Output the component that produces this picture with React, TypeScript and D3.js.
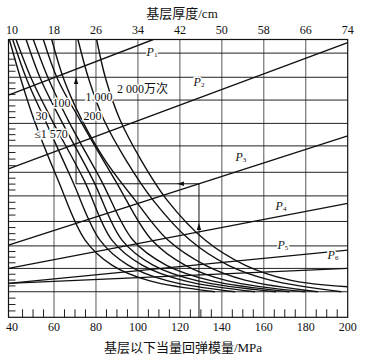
import React from 'react';
import * as d3 from 'd3';

const W = 372;
const H = 359;

// bottom axis (MPa) and top axis (cm)
const modulusTicks = [40, 60, 80, 100, 120, 140, 160, 180, 200];
const modulusMinor = [45, 50, 55, 65, 70, 75, 85, 90, 95, 105, 110, 115, 125, 130, 135, 145, 150, 155, 165, 170, 175, 185, 190, 195];
const thicknessTicks = [10, 18, 26, 34, 42, 50, 58, 66, 74];

// hidden vertical scale (no labels) : grid lines
const hGridValues = [95.1, 86.4, 78.2, 69.8, 61.7, 52.2, 43.7, 34.5, 25.7, 17.6, 9.2, 0];

// P lines (modulus, hidden value)
const lineP1 = [[38.3, 80.0], [107.3, 100]];
const lineP2 = [[38.3, 53.4], [200, 98.85]];
const lineP3 = [[38.3, 26.0], [200, 65.3]];
const lineP4 = [[38.3, 17.6], [200, 41.0]];
const lineP5 = [[38.3, 12.2], [200, 24.2]];
const lineP6 = [[38.3, 12.2], [200, 17.6]];
const pNames = ['1', '2', '3', '4', '5', '6'];
const pLabelPos = [[106.7, 95.5], [129.1, 84.7], [149.1, 57.7], [168.2, 40.1], [169.1, 26.0], [193.0, 22.4]];

// traffic curves (modulus, hidden value)
const curveA = [[38.7, 100], [44.3, 85.4], [50.5, 71.0], [61.9, 49.4], [74.8, 27.8], [87.6, 18.8], [105.7, 13.1], [136.7, 9.2]];
const curveB = [[40.3, 100], [47.1, 85.4], [55.7, 71.0], [68.6, 49.4], [81.9, 27.8], [95.3, 18.8], [114.3, 13.1], [146.3, 9.2]];
const curveC = [[41.9, 100], [49.5, 85.4], [59.0, 71.0], [74.3, 49.4], [87.6, 27.8], [102.0, 18.8], [122.4, 13.1], [155.8, 9.2]];
const curveD = [[46.7, 100], [53.8, 85.4], [63.3, 71.0], [78.6, 49.4], [92.4, 27.8], [107.2, 18.8], [128.6, 13.1], [165.8, 9.2]];
const curveE = [[50.1, 100], [57.6, 85.4], [66.7, 71.0], [82.4, 49.4], [97.6, 27.8], [113.4, 18.8], [135.3, 13.1], [172.2, 9.2]];
const curveF = [[54.9, 100], [61.9, 85.4], [72.4, 71.0], [89.1, 49.4], [106.6, 27.8], [122.4, 18.8], [142.9, 13.1], [179.6, 9.2]];
const curveG = [[58.9, 100], [64.8, 85.4], [73.3, 71.0], [84.3, 56.6], [98.6, 42.2], [114.3, 27.8], [132.0, 18.8], [151.0, 13.4], [185.8, 9.2]];
const curveH = [[71.4, 100], [76.7, 85.4], [83.8, 71.0], [94.3, 56.6], [107.2, 42.2], [124.8, 27.8], [142.9, 18.8], [163.0, 13.4], [197.0, 9.2]];
const curveI = [[80.3, 100], [84.8, 85.4], [91.5, 71.0], [101.5, 56.6], [113.9, 42.2], [132.0, 27.8], [151.0, 18.8], [172.5, 13.4], [200, 11.0]];

const curveLabels = ['≤1 570', '30', '100', '200', '1 000', '2 000万次'];
const curveLabelPos = [[58.6, 66.0], [54.0, 72.5], [63.6, 77.3], [78.3, 72.6], [81.4, 79.3], [102.2, 82.2]];

// worked example
const exampleModulus = 129.1;
const exampleThickness = 22.2;
const exampleArrowUp1 = 32.5;
const exampleArrowLeft = 120.5;
const exampleArrowUp2 = 85.1;

const FONT = "'Liberation Serif', 'Noto Sans CJK SC', serif";

export default function App() {
  const left = 8.5, right = 347.7, top = 39.5, bottom = 317.3;
  const x = d3.scaleLinear().domain([38.3, 200]).range([left, right]);
  const xTop = d3.scaleLinear().domain([10, 74]).range([x(40), x(200)]);
  const y = d3.scaleLinear().domain([0, 100]).range([bottom, top]);

  const line = d3.line<number[]>().x(d => x(d[0])).y(d => y(d[1]));
  const smooth = d3.line<number[]>().x(d => x(d[0])).y(d => y(d[1])).curve(d3.curveCatmullRom.alpha(0.5));

  const pLines = [lineP1, lineP2, lineP3, lineP4, lineP5, lineP6];
  const curves = [curveA, curveB, curveC, curveD, curveE, curveF, curveG, curveH, curveI];

  // minor ticks on the hidden axis: quarter subdivisions
  const minorY: number[] = [];
  for (let i = 1; i < hGridValues.length; i++) {
    const a = hGridValues[i - 1], b = hGridValues[i];
    for (let k = 1; k < 4; k++) minorY.push(a + (b - a) * k / 4);
  }

  // example path
  const p3 = lineP3;
  const exV = p3[0][1] + (exampleModulus - p3[0][0]) / (p3[1][0] - p3[0][0]) * (p3[1][1] - p3[0][1]);
  const exX1 = x(exampleModulus);
  const exX2 = xTop(exampleThickness);
  const exY = y(exV);

  const arrowUp = (cx: number, cy: number) => `M${cx},${cy - 4} L${cx - 2.2},${cy + 3} L${cx + 2.2},${cy + 3} Z`;
  const arrowLeft = (cx: number, cy: number) => `M${cx - 4},${cy} L${cx + 3},${cy - 2.2} L${cx + 3},${cy + 2.2} Z`;

  return (
    <svg width={W} height={H} style={{ position: 'absolute', left: 0, top: 0, background: '#fff' }} fontFamily={FONT}>
      <defs>
        <clipPath id="plot">
          <rect x={left} y={top} width={right - left} height={bottom - top} />
        </clipPath>
      </defs>
      <rect x={0} y={0} width={W} height={H} fill="#fff" />
      {modulusTicks.slice(1, -1).map(t => (
        <line key={'vg' + t} x1={x(t)} x2={x(t)} y1={top} y2={bottom} stroke="#666" strokeWidth={1.1} />
      ))}
      {hGridValues.slice(0, -1).map(v => (
        <line key={'hg' + v} x1={left} x2={right} y1={y(v)} y2={y(v)} stroke="#222" strokeWidth={1} />
      ))}
      {minorY.map((v, i) => (
        <line key={'my' + i} x1={left} x2={left + 7} y1={y(v)} y2={y(v)} stroke="#222" strokeWidth={1} />
      ))}
      {modulusMinor.map(t => (
        <line key={'mx' + t} x1={x(t)} x2={x(t)} y1={bottom} y2={bottom - 8} stroke="#222" strokeWidth={1} />
      ))}
      <g clipPath="url(#plot)">
        {pLines.map((pl, i) => (
          <path key={'p' + i} d={line(pl) || ''} fill="none" stroke="#111" strokeWidth={1.4} />
        ))}
        {curves.map((c, i) => (
          <path key={'c' + i} d={smooth(c) || ''} fill="none" stroke="#111" strokeWidth={1.4} />
        ))}
        <path d={`M${exX1},${bottom} L${exX1},${exY} L${exX2},${exY} L${exX2},${top}`} fill="none" stroke="#111" strokeWidth={1} />
        <path d={arrowUp(exX1, y(exampleArrowUp1))} fill="#111" />
        <path d={arrowLeft(x(exampleArrowLeft), exY)} fill="#111" />
        <path d={arrowUp(exX2, y(exampleArrowUp2))} fill="#111" />
      </g>
      <rect x={left} y={top} width={right - left} height={bottom - top} fill="none" stroke="#111" strokeWidth={1.2} />
      {curveLabels.map((t, i) => (
        <text key={'cl' + i} x={x(curveLabelPos[i][0])} y={y(curveLabelPos[i][1])} textAnchor="middle" dominantBaseline="central"
          fontSize={12} fill="#111" stroke="#fff" strokeWidth={3} paintOrder="stroke">{t}</text>
      ))}
      {pNames.map((n, i) => (
        <text key={'pl' + i} x={x(pLabelPos[i][0])} y={y(pLabelPos[i][1])} textAnchor="middle" dominantBaseline="central"
          fontSize={12} fill="#111" stroke="#fff" strokeWidth={3} paintOrder="stroke">
          <tspan fontStyle="italic">P</tspan><tspan fontSize={7} dy={3}>{n}</tspan>
        </text>
      ))}
      {thicknessTicks.map(t => (
        <text key={'tt' + t} x={xTop(t)} y={34} textAnchor="middle" fontSize={12} fill="#111">{t}</text>
      ))}
      <text x={182} y={18} textAnchor="middle" fontSize={13} fill="#111">基层厚度/cm</text>
      {modulusTicks.map(t => (
        <text key={'bt' + t} x={x(t)} y={331} textAnchor="middle" fontSize={12} fill="#111">{t}</text>
      ))}
      <text x={183} y={352} textAnchor="middle" fontSize={13} fill="#111">基层以下当量回弹模量/MPa</text>
    </svg>
  );
}
